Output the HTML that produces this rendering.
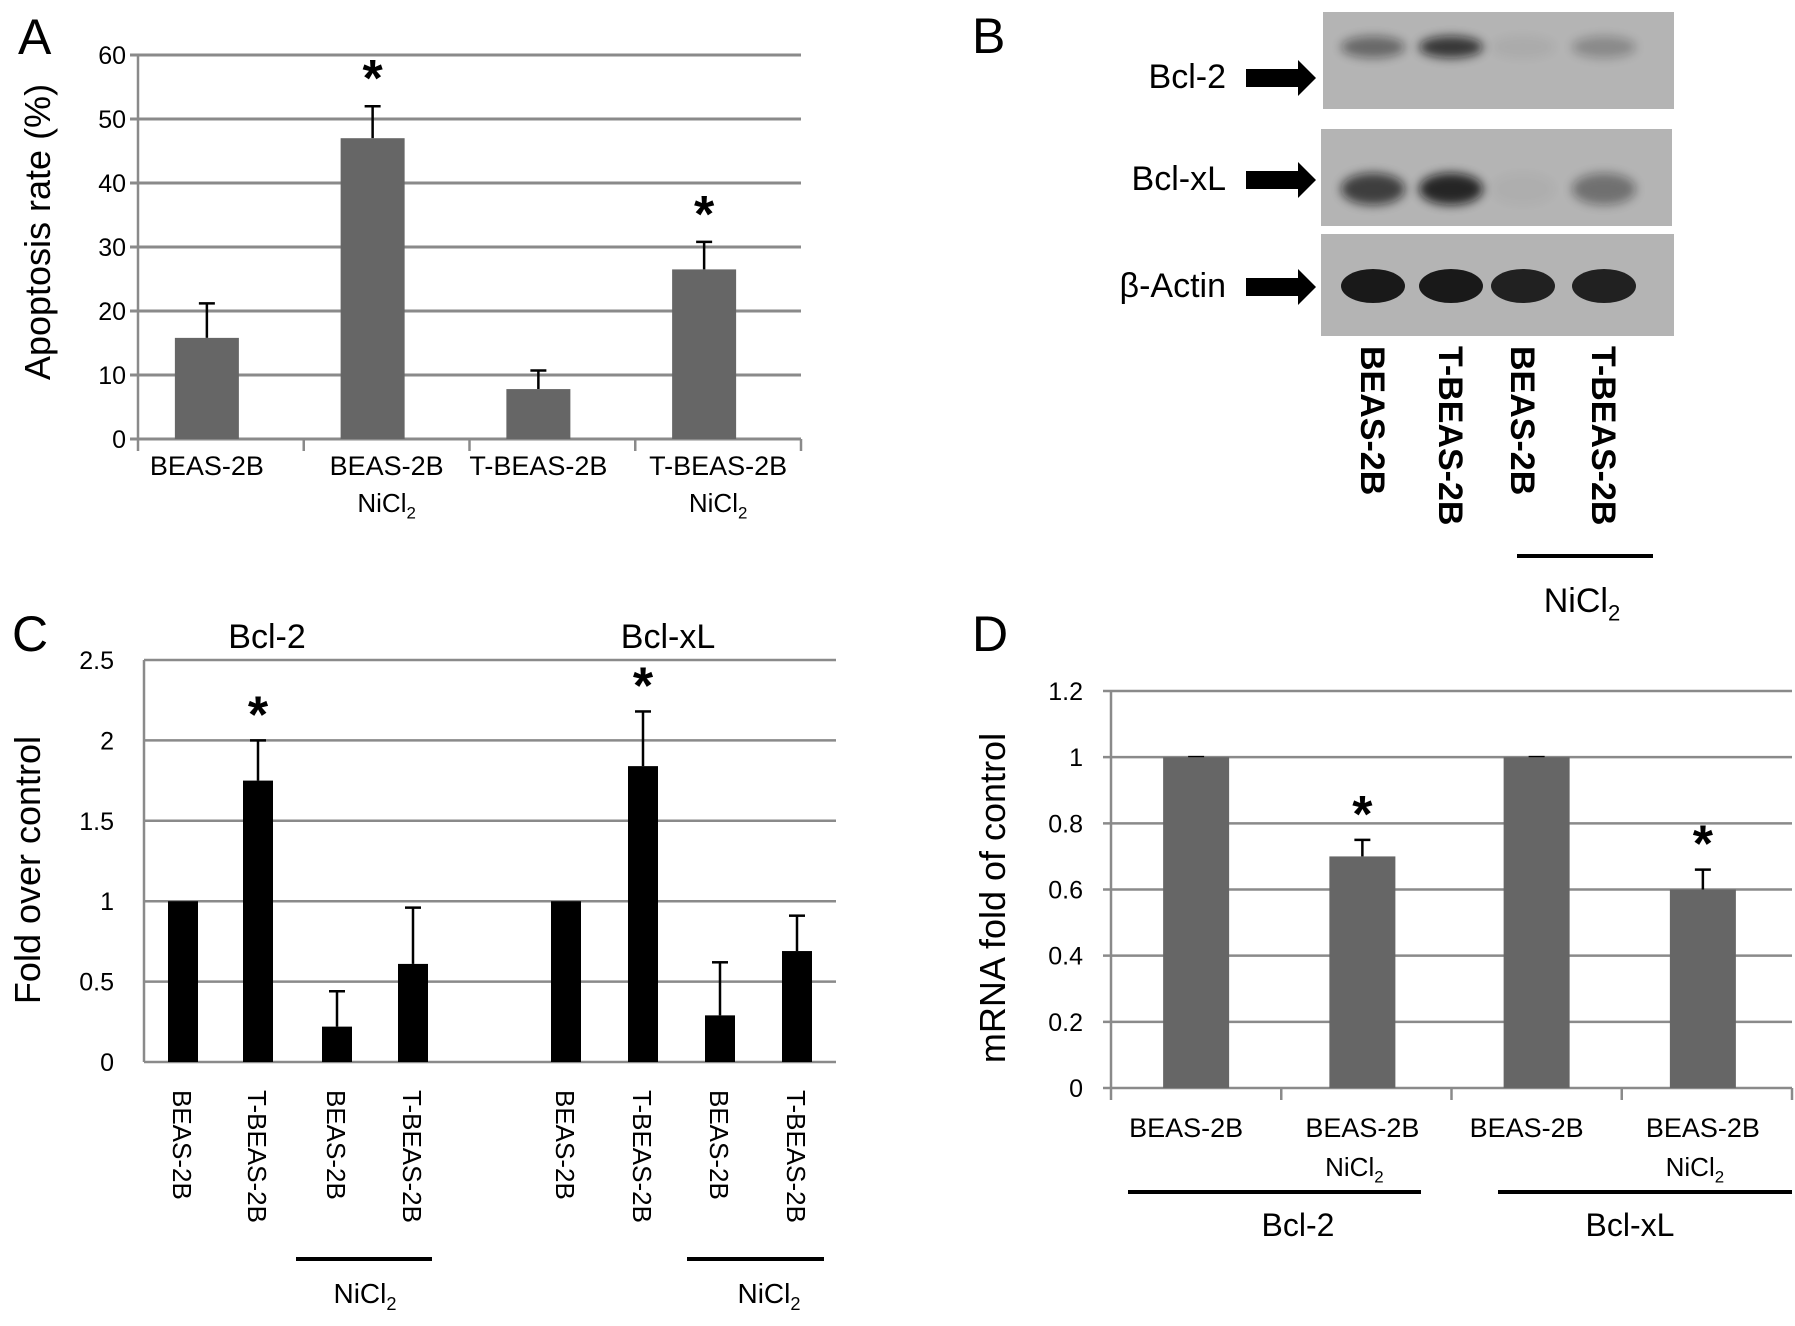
<!DOCTYPE html>
<html><head><meta charset="utf-8"><style>
body{margin:0;background:#fff}
svg{display:block;font-family:"Liberation Sans",sans-serif}
</style></head><body>
<svg id="fig" width="1795" height="1326" viewBox="0 0 1795 1326" xmlns="http://www.w3.org/2000/svg">
<defs><filter id="bl" x="-50%" y="-50%" width="200%" height="200%"><feGaussianBlur stdDeviation="5"/></filter></defs>
<text x="18" y="54" font-size="50">A</text>
<text x="972" y="53" font-size="50">B</text>
<text x="12" y="651" font-size="50">C</text>
<text x="972" y="651" font-size="50">D</text>
<g id="gA"></g>
<g id="gB"></g>
<g id="gC"></g>
<g id="gD"></g>
</svg>
<script>
const aCats=["BEAS-2B","BEAS-2B","T-BEAS-2B","T-BEAS-2B"];
const aNi=[false,true,false,true];
const aVals=[15.8,47,7.8,26.5];
const aErr=[21.2,52,10.7,30.8];
const aStar=[false,true,false,true];
const aTicks=[0,10,20,30,40,50,60];
const cGroups=["Bcl-2","Bcl-xL"];
const cCats=["BEAS-2B","T-BEAS-2B","BEAS-2B","T-BEAS-2B","BEAS-2B","T-BEAS-2B","BEAS-2B","T-BEAS-2B"];
const cVals=[1,1.75,0.22,0.61,1,1.84,0.29,0.69];
const cErr=[1,2.0,0.44,0.96,1,2.18,0.62,0.91];
const cStar=[false,true,false,false,false,true,false,false];
const cTicks=[0,0.5,1,1.5,2,2.5];
const dCats=["BEAS-2B","BEAS-2B","BEAS-2B","BEAS-2B"];
const dNi=[false,true,false,true];
const dVals=[1,0.7,1,0.6];
const dErr=[1,0.75,1,0.66];
const dStar=[false,true,false,true];
const dTicks=[0,0.2,0.4,0.6,0.8,1,1.2];
const bLanes=["BEAS-2B","T-BEAS-2B","BEAS-2B","T-BEAS-2B"];
const bProteins=["Bcl-2","Bcl-xL","β-Actin"];
const bIntensity=[[0.45,0.75,0.05,0.25],[0.7,0.85,0.03,0.4],[0.95,0.95,0.9,0.9]];
const NS="http://www.w3.org/2000/svg";
function mk(p,t,a,txt){const e=document.createElementNS(NS,t);for(const k in a)e.setAttribute(k,a[k]);if(txt!==undefined)e.textContent=txt;p.appendChild(e);return e;}
function lbl(p,x,y,fs,s,sub,anchor){const t=mk(p,'text',{x:x,y:y,'font-size':fs,'text-anchor':anchor||'middle'});t.appendChild(document.createTextNode(s));if(sub){const ts=document.createElementNS(NS,'tspan');ts.setAttribute('font-size',fs*0.65);ts.setAttribute('dy',fs*0.25);ts.textContent=sub;t.appendChild(ts);}return t;}
function star(p,x,y,fs){const t=mk(p,'text',{x:x,y:y,'font-size':fs,'font-weight':'bold','text-anchor':'middle'},'*');}

// Panel A
(function(){const g=document.getElementById('gA');const x0=138,x1=801,y0=439,yT=55,max=60;
const Y=v=>y0-(v/max)*(y0-yT);const slot=(x1-x0)/aVals.length;const X=i=>x0+slot*(i+0.5)-14;
aTicks.forEach(t=>{const l=mk(g,'line',{x1:x0-8,x2:x1,y1:Y(t),y2:Y(t),stroke:'#8a8a8a','stroke-width':3});
const tx=mk(g,'text',{x:x0-12,y:Y(t)+9,'font-size':25,'text-anchor':'end'},t);});
mk(g,'line',{x1:x0,x2:x0,y1:yT,y2:y0+12,stroke:'#8a8a8a','stroke-width':2.5});
for(let i=1;i<=aVals.length;i++)mk(g,'line',{x1:x0+slot*i,x2:x0+slot*i,y1:y0,y2:y0+12,stroke:'#8a8a8a','stroke-width':2.5});
aVals.forEach((v,i)=>{const cx=X(i);
mk(g,'line',{x1:cx,x2:cx,y1:Y(aErr[i]),y2:Y(v),stroke:'#000','stroke-width':2.5});
mk(g,'line',{x1:cx-8,x2:cx+8,y1:Y(aErr[i]),y2:Y(aErr[i]),stroke:'#000','stroke-width':2.5});
const r=mk(g,'rect',{x:cx-32,y:Y(v),width:64,height:y0-Y(v),fill:'#666'});
if(aStar[i])star(g,cx,Y(aErr[i])-10,52);
const t=lbl(g,cx+(i%2?14:0),475,27,aCats[i]);
if(aNi[i]){const n=lbl(g,cx+(i%2?14:0),512,26,'NiCl','2');}});
const yl=mk(g,'text',{x:0,y:0,'font-size':36,'text-anchor':'middle',transform:'translate(50,232) rotate(-90)'},'Apoptosis rate (%)');})();

// Panel B
(function(){const g=document.getElementById('gB');const boxes=[[1323,12,351,97],[1321,129,351,97],[1321,234,353,102]];const lanes=[1373,1451,1523,1604];const arrowY=[78,180,287];
boxes.forEach((b,p)=>{const r=mk(g,'rect',{x:b[0],y:b[1],width:b[2],height:b[3],fill:'#b4b4b4'});
bLanes.forEach((l,i)=>{const a=bIntensity[p][i];const by=p==0?b[1]+35:(p==1?b[1]+60:b[1]+52);
const e=mk(g,'ellipse',{cx:lanes[i],cy:by,rx:32,ry:p==2?17:(p==1?16:11),fill:'#111',opacity:a,filter:p==2?'':'url(#bl)'});});
const ay=arrowY[p];const ar=mk(g,'path',{d:`M1246 ${ay-9} H1298 V${ay-18} L1316 ${ay} L1298 ${ay+18} V${ay+9} H1246 Z`,fill:'#000'});
const t=mk(g,'text',{x:1226,y:ay+10,'font-size':34,'text-anchor':'end'},bProteins[p]);});
bLanes.forEach((l,i)=>{const t=mk(g,'text',{x:0,y:0,'font-size':34,'font-weight':'bold',transform:`translate(${lanes[i]-12},346) rotate(90)`},l);});
mk(g,'line',{x1:1517,x2:1653,y1:556,y2:556,stroke:'#000','stroke-width':4});
const n=lbl(g,1582,612,34,'NiCl','2');})();

// Panel C
(function(){const g=document.getElementById('gC');const x0=144,x1=836,y0=1062,yT=660,max=2.5;const Y=v=>y0-(v/max)*(y0-yT);
const xs=[183,258,337,413,566,643,720,797];
cTicks.forEach(t=>{const l=mk(g,'line',{x1:x0,x2:x1,y1:Y(t),y2:Y(t),stroke:'#8a8a8a','stroke-width':2.5});
const tx=mk(g,'text',{x:x0-30,y:Y(t)+9,'font-size':25,'text-anchor':'end'},t);});
mk(g,'line',{x1:x0,x2:x0,y1:yT,y2:y0,stroke:'#8a8a8a','stroke-width':2.5});
cVals.forEach((v,i)=>{const cx=xs[i];
if(cErr[i]>v){mk(g,'line',{x1:cx,x2:cx,y1:Y(cErr[i]),y2:Y(v),stroke:'#000','stroke-width':2.5});mk(g,'line',{x1:cx-8,x2:cx+8,y1:Y(cErr[i]),y2:Y(cErr[i]),stroke:'#000','stroke-width':2.5});}
const r=mk(g,'rect',{x:cx-15,y:Y(v),width:30,height:y0-Y(v),fill:'#000'});
if(cStar[i])star(g,cx,Y(cErr[i])-8,52);
const t=mk(g,'text',{x:0,y:0,'font-size':26,transform:`translate(${cx-10},1090) rotate(90)`},cCats[i]);});
[[267,'Bcl-2'],[668,'Bcl-xL']].forEach((a,i)=>{const t=mk(g,'text',{x:a[0],y:648,'font-size':34,'text-anchor':'middle'},cGroups[i]);});
[[296,432,365],[687,824,769]].forEach(a=>{mk(g,'line',{x1:a[0],x2:a[1],y1:1259,y2:1259,stroke:'#000','stroke-width':4});const n=lbl(g,a[2],1303,28,'NiCl','2');});
const yl=mk(g,'text',{x:0,y:0,'font-size':36,'text-anchor':'middle',transform:'translate(40,870) rotate(-90)'},'Fold over control');})();

// Panel D
(function(){const g=document.getElementById('gD');const x0=1111,x1=1792,y0=1088,yT=691,max=1.2;const Y=v=>y0-(v/max)*(y0-yT);
const slot=(x1-x0)/dVals.length;const X=i=>x0+slot*(i+0.5)-(i%2?4:0);
dTicks.forEach(t=>{const l=mk(g,'line',{x1:x0-8,x2:x1,y1:Y(t),y2:Y(t),stroke:'#8a8a8a','stroke-width':2.5});
const tx=mk(g,'text',{x:x0-28,y:Y(t)+9,'font-size':25,'text-anchor':'end'},t);});
mk(g,'line',{x1:x0,x2:x0,y1:yT,y2:y0+12,stroke:'#8a8a8a','stroke-width':2.5});
for(let i=1;i<=dVals.length;i++)mk(g,'line',{x1:x0+slot*i,x2:x0+slot*i,y1:y0,y2:y0+12,stroke:'#8a8a8a','stroke-width':2.5});
dVals.forEach((v,i)=>{const cx=X(i);
mk(g,'line',{x1:cx,x2:cx,y1:Y(dErr[i]),y2:Y(v),stroke:'#000','stroke-width':2.5});mk(g,'line',{x1:cx-8,x2:cx+8,y1:Y(dErr[i]),y2:Y(dErr[i]),stroke:'#000','stroke-width':2.5});
const r=mk(g,'rect',{x:cx-33,y:Y(v),width:66,height:y0-Y(v),fill:'#666'});
if(dStar[i])star(g,cx,Y(dErr[i])-8,52);
const t=lbl(g,cx-(i%2?0:10),1137,27,dCats[i]);
if(dNi[i]){const n=lbl(g,cx-8,1176,26,'NiCl','2');}});
[[1128,1421,1298,'Bcl-2'],[1498,1792,1630,'Bcl-xL']].forEach(a=>{mk(g,'line',{x1:a[0],x2:a[1],y1:1192,y2:1192,stroke:'#000','stroke-width':4});const t=mk(g,'text',{x:a[2],y:1236,'font-size':32,'text-anchor':'middle'},a[3]);});
const yl=mk(g,'text',{x:0,y:0,'font-size':36,'text-anchor':'middle',transform:'translate(1005,898) rotate(-90)'},'mRNA fold of control');})();
</script>
</body></html>
